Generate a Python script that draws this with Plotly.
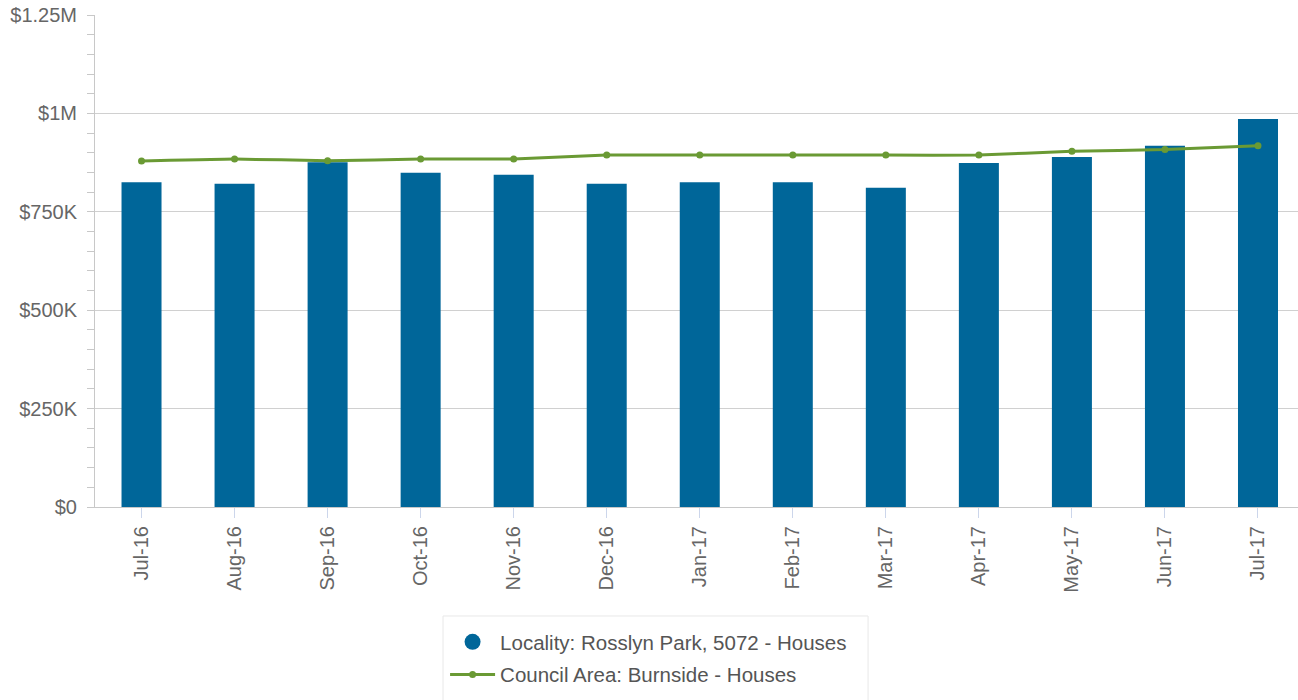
import plotly.graph_objects as go

months = ["Jul-16", "Aug-16", "Sep-16", "Oct-16", "Nov-16", "Dec-16", "Jan-17",
          "Feb-17", "Mar-17", "Apr-17", "May-17", "Jun-17", "Jul-17"]
locality_values = [825000, 821000, 876000, 849000, 844000, 821000, 825000,
                   825000, 811000, 874000, 889000, 918000, 986000]
council_values = [879000, 884000, 880000, 884000, 884000, 894000, 894000,
                  894000, 894000, 894000, 904000, 908000, 918000]
y_tick_vals = [0, 250000, 500000, 750000, 1000000, 1250000]
y_tick_text = ["$0", "$250K", "$500K", "$750K", "$1M", "$1.25M"]

locality_name = "Locality: Rosslyn Park, 5072 - Houses"
council_name = "Council Area: Burnside - Houses"

BLUE = "#006699"
GREEN = "#6a9a34"
FONT = "Liberation Sans, Arial, sans-serif"

fig = go.Figure()
fig.add_trace(go.Bar(x=months, y=locality_values, marker=dict(color=BLUE, line=dict(width=0)),
                     width=0.43, showlegend=False, name=locality_name))
# legend entry with circle symbol for the bar series
fig.add_trace(go.Scatter(x=[None], y=[None], mode="markers", name=locality_name,
                         legendgroup="a",
                         marker=dict(color=BLUE, size=21, symbol="circle")))
fig.add_trace(go.Scatter(x=months, y=council_values, mode="lines+markers", name=council_name,
                         legendgroup="b",
                         line=dict(color=GREEN, width=3, shape="spline", smoothing=0.4),
                         marker=dict(color=GREEN, size=7)))

fig.update_layout(
    width=1298, height=700,
    margin=dict(l=95, r=0, t=15, b=193, autoexpand=False),
    plot_bgcolor="white", paper_bgcolor="white",
    font=dict(family=FONT, size=20, color="#666666"),
    legend=dict(orientation="v", x=0.291, xanchor="left", y=-0.2337, yanchor="top",
                borderwidth=0, bgcolor="rgba(0,0,0,0)",
                font=dict(size=20.5, color="#555555"), itemwidth=45,
                traceorder="grouped", tracegroupgap=3),
    shapes=[dict(type="rect", xref="paper", yref="paper",
                 x0=0.2893, x1=0.6426, y0=-0.2215, y1=-0.45,
                 line=dict(color="#e8e8e8", width=1), fillcolor="rgba(0,0,0,0)",
                 layer="above")],
)
fig.update_xaxes(
    type="category", range=[-0.5, 12.43], automargin=False,
    showline=True, linecolor="#c8c8c8", linewidth=1,
    ticks="outside", ticklen=10, tickcolor="#ccd6eb",
    tickangle=-90, showgrid=False,
    tickfont=dict(size=20, color="#666666"),
)
fig.update_yaxes(
    range=[0, 1250000], automargin=False,
    tickvals=y_tick_vals, ticktext=y_tick_text,
    showline=True, linecolor="#c8c8c8", linewidth=1,
    ticks="outside", ticklen=7, tickcolor="#c8c8c8",
    showgrid=True, gridcolor="#d0d0d0", gridwidth=1,
    zeroline=False,
    minor=dict(dtick=50000, ticks="outside", ticklen=7, tickcolor="#c8c8c8", showgrid=False),
    tickfont=dict(size=20, color="#666666"),
    ticklabelstandoff=6,
)

fig.write_html("out.html",
               config={"displayModeBar": False},
               post_script="document.body.style.margin='0';document.body.style.overflow='hidden';")
